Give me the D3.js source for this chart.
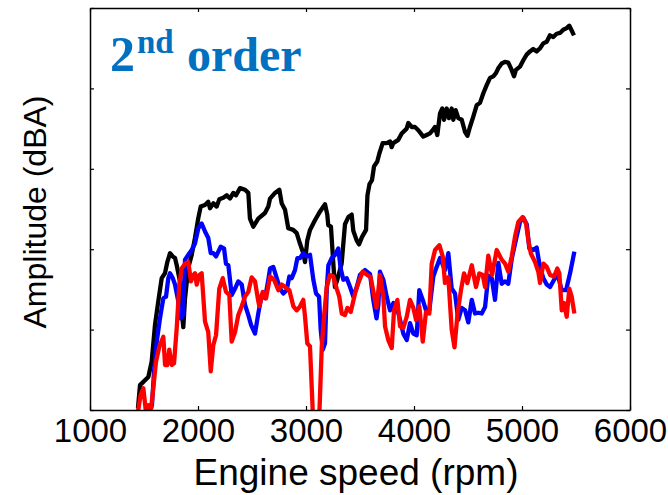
<!DOCTYPE html>
<html><head><meta charset="utf-8">
<script src="https://cdn.jsdelivr.net/npm/d3@7"></script>
<style>body{margin:0;background:#fff} svg{display:block}</style>
</head><body>
<svg id="chart" width="668" height="495"></svg>
<script>
const xTicks = [1000, 2000, 3000, 4000, 5000, 6000];
const yTicks = [40, 50, 60, 70, 80, 90];

const rpmBlack = [1444,1463,1494,1540,1571,1602,1632,1664,1694,1716,1741,1766,1787,1803,1833,1849,1864,1880,1910,1942,1972,2003,2025,2065,2095,2111,2142,2173,2197,2234,2266,2296,2327,2352,2389,2435,2466,2481,2512,2558,2620,2651,2667,2713,2753,2775,2806,2836,2882,2914,2944,2975,2991,3012,3037,3083,3130,3176,3197,3206,3231,3253,3268,3290,3330,3361,3392,3423,3438,3469,3491,3518,3556,3569,3588,3611,3630,3660,3679,3710,3747,3778,3793,3808,3855,3886,3932,3947,3979,4009,4040,4086,4117,4148,4173,4194,4216,4241,4262,4278,4303,4324,4349,4364,4386,4410,4442,4472,4495,4518,4549,4580,4611,4642,4673,4704,4734,4759,4780,4812,4842,4873,4904,4926,4944,4981,5012,5043,5074,5104,5136,5167,5197,5229,5259,5290,5321,5352,5382,5414,5438,5460,5481];
const ampBlack = [40.2,43.1,43.5,44.1,46.0,50.6,53.5,56.4,57.0,58.4,59.5,59.1,58.9,58.0,56.0,52.2,50.3,53.9,57.7,59.3,61.4,63.9,65.3,65.5,65.9,65.1,65.7,65.3,66.2,66.4,66.7,66.3,67.0,66.7,67.6,67.4,67.0,63.8,62.8,63.8,64.5,65.3,66.3,67.0,67.4,65.7,64.9,62.6,62.4,62.0,60.7,59.5,58.4,61.1,62.4,63.6,64.7,65.6,64.3,63.0,62.8,58.2,55.3,56.2,58.2,63.1,64.0,64.3,62.3,61.1,60.6,61.5,62.4,66.7,68.1,68.6,70.3,70.9,71.9,73.2,73.2,73.4,72.7,73.2,73.6,74.4,75.0,75.7,75.2,75.2,74.8,74.0,74.2,74.4,74.8,75.2,74.2,76.9,77.5,76.1,77.5,76.3,77.5,76.1,77.3,76.3,76.1,74.6,74.1,75.2,76.5,77.9,78.2,79.4,80.4,81.3,81.5,81.9,82.5,83.1,83.3,83.2,82.3,81.5,82.3,82.7,83.5,84.2,84.6,84.9,84.6,85.0,85.6,85.8,86.6,86.4,86.8,86.9,87.3,87.5,87.8,87.2,86.6];

const rpmBlue = [1546,1574,1593,1618,1648,1679,1704,1725,1741,1766,1787,1818,1840,1861,1880,1910,1942,1972,2003,2034,2065,2095,2118,2142,2167,2188,2210,2241,2259,2281,2312,2343,2373,2405,2435,2466,2491,2528,2558,2590,2621,2651,2667,2697,2729,2759,2790,2821,2846,2868,2898,2920,2945,2975,3007,3037,3068,3093,3121,3136,3155,3176,3192,3207,3238,3269,3299,3321,3346,3377,3408,3438,3470,3500,3547,3593,3623,3653,3670,3685,3716,3747,3778,3809,3840,3871,3901,3933,3963,3994,4025,4049,4081,4111,4142,4179,4210,4241,4287,4318,4349,4380,4410,4442,4473,4503,4535,4565,4596,4627,4658,4688,4720,4750,4781,4812,4843,4873,4905,4951,4982,5012,5044,5068,5105,5136,5167,5198,5229,5260,5297,5327,5368,5408,5445,5485];
const ampBlue = [39.5,40.6,44.8,48.5,51.4,53.9,54.1,56.4,57.0,56.4,55.6,53.5,51.4,51.8,58.7,59.3,59.9,60.7,62.6,63.2,62.2,61.4,59.5,59.5,59.1,59.7,60.3,60.1,58.2,58.0,54.3,55.1,56.0,55.6,53.1,51.8,50.6,49.5,52.0,54.3,53.9,56.2,57.6,57.8,56.4,55.1,54.5,54.9,56.6,56.4,57.4,58.9,58.9,59.5,59.1,59.3,56.2,54.5,54.1,50.0,47.5,48.3,54.9,58.0,58.9,59.3,60.1,57.6,56.2,56.4,55.3,54.1,55.3,56.8,57.4,56.9,53.7,51.4,53.1,57.2,56.2,54.1,52.4,53.3,52.9,51.2,49.5,48.7,50.8,49.5,49.3,54.9,53.7,52.4,52.4,56.6,57.8,58.9,57.4,59.5,55.1,54.5,51.2,52.7,52.4,50.9,53.7,52.0,52.1,52.0,52.8,56.7,56.4,53.7,58.3,55.7,56.0,55.7,58.8,61.6,63.4,63.9,63.1,60.1,59.9,60.2,57.7,56.4,55.6,55.3,56.2,57.0,54.9,54.9,57.0,59.7];

const rpmRed = [1444,1469,1494,1519,1540,1562,1586,1611,1642,1679,1695,1716,1734,1757,1778,1803,1827,1849,1880,1910,1935,1957,1972,1988,2012,2034,2065,2095,2118,2142,2167,2197,2229,2259,2290,2312,2343,2373,2405,2435,2466,2497,2528,2556,2568,2599,2630,2667,2704,2744,2775,2806,2846,2883,2914,2945,2975,2991,3012,3037,3062,3093,3125,3146,3167,3192,3222,3253,3284,3308,3331,3361,3383,3414,3454,3485,3525,3568,3599,3630,3653,3685,3716,3732,3762,3794,3815,3846,3871,3901,3933,3963,3994,4019,4049,4081,4111,4142,4164,4195,4235,4266,4287,4318,4349,4375,4403,4435,4463,4494,4535,4574,4605,4636,4658,4688,4723,4766,4812,4843,4873,4905,4936,4966,5007,5037,5059,5081,5121,5151,5167,5198,5229,5260,5297,5327,5346,5368,5389,5414,5438,5460,5485];
const ampRed = [39.8,41.9,42.7,39.6,40.6,39.8,42.7,46.0,47.9,49.1,45.6,45.6,47.5,45.6,45.8,50.2,55.6,57.6,58.2,58.4,56.0,56.8,57.0,55.6,56.8,57.0,51.0,49.7,44.8,48.1,49.3,55.1,56.4,54.7,54.3,48.5,49.7,51.8,52.9,54.1,54.7,56.5,56.0,53.7,52.9,54.7,53.9,56.6,56.2,54.9,55.6,55.3,54.9,52.9,52.4,52.9,53.7,51.6,48.3,47.9,40.0,37.5,40.0,47.9,51.6,55.3,56.8,56.6,55.1,54.1,52.0,51.8,52.7,52.2,54.5,55.8,57.2,56.8,56.5,54.3,52.7,56.8,54.1,50.4,48.7,47.7,52.4,53.7,50.4,50.2,51.6,53.7,52.7,51.2,52.9,48.5,52.2,52.0,58.2,59.9,60.5,59.1,55.8,56.5,50.0,47.8,52.0,54.9,57.0,55.8,58.0,55.3,57.0,56.8,55.3,59.2,56.8,59.9,58.7,58.2,57.2,59.1,61.6,63.4,64.0,63.2,61.1,59.5,58.4,57.2,55.8,58.2,57.8,56.8,56.6,57.6,57.0,52.4,53.3,51.6,55.1,54.1,52.0];

const svg = d3.select('#chart');
const L = 90, R = 630, T = 8, B = 410;
const x = d3.scaleLinear().domain([1000, 6000]).range([L, R]);
const y = d3.scaleLinear().domain([40, 90]).range([B, T]);

svg.append('defs').append('clipPath').attr('id', 'clip')
  .append('rect').attr('x', L).attr('y', T).attr('width', R - L).attr('height', B - T);

const line = d3.line().x(d => x(d[0])).y(d => y(d[1]));
const series = [
  {rpm: rpmBlack, amp: ampBlack, color: '#000000'},
  {rpm: rpmBlue, amp: ampBlue, color: '#0000ff'},
  {rpm: rpmRed, amp: ampRed, color: '#ff0000'}
];
const g = svg.append('g').attr('clip-path', 'url(#clip)');
series.forEach(s => {
  g.append('path')
    .datum(s.rpm.map((r, i) => [r, s.amp[i]]))
    .attr('d', line)
    .attr('fill', 'none')
    .attr('stroke', s.color)
    .attr('stroke-width', 4.3)
    .attr('stroke-linejoin', 'round');
});

function styleAxis(sel) {
  sel.select('.domain').attr('stroke', '#000').attr('stroke-width', 1.5);
  sel.selectAll('.tick line').attr('stroke', '#000').attr('stroke-width', 1.2);
}
const xb = svg.append('g').attr('transform', `translate(0,${B})`)
  .call(d3.axisBottom(x).tickValues(xTicks).tickSize(-4).tickSizeOuter(0).tickPadding(9).tickFormat(d3.format('d')));
styleAxis(xb);
xb.selectAll('text').attr('font-family', 'Liberation Sans, Arial, sans-serif').attr('font-size', 33).attr('fill', '#000');

const xt = svg.append('g').attr('transform', `translate(0,${T})`)
  .call(d3.axisTop(x).tickValues(xTicks).tickSize(-4).tickSizeOuter(0).tickFormat(''));
styleAxis(xt);
const yl = svg.append('g').attr('transform', `translate(${L},0)`)
  .call(d3.axisLeft(y).tickValues(yTicks).tickSize(-4).tickSizeOuter(0).tickFormat(''));
styleAxis(yl);
const yr = svg.append('g').attr('transform', `translate(${R},0)`)
  .call(d3.axisRight(y).tickValues(yTicks).tickSize(-4).tickSizeOuter(0).tickFormat(''));
styleAxis(yr);

svg.append('text')
  .attr('x', 356).attr('y', 485)
  .attr('text-anchor', 'middle')
  .attr('font-family', 'Liberation Sans, Arial, sans-serif')
  .attr('font-size', 37)
  .text('Engine speed (rpm)');

svg.append('text')
  .attr('transform', 'translate(46,212) rotate(-90)')
  .attr('text-anchor', 'middle')
  .attr('font-family', 'Liberation Sans, Arial, sans-serif')
  .attr('font-size', 32)
  .text('Amplitude (dBA)');

const title = svg.append('text')
  .attr('y', 71)
  .attr('font-family', 'Liberation Serif, Times New Roman, serif')
  .attr('font-weight', 'bold')
  .attr('fill', '#0070c0');
title.append('tspan').attr('x', 110).attr('font-size', 50).text('2');
title.append('tspan').attr('x', 137).attr('y', 53).attr('font-size', 33).text('nd');
title.append('tspan').attr('x', 187).attr('y', 71).attr('font-size', 48).text('order');
</script>
</body></html>
